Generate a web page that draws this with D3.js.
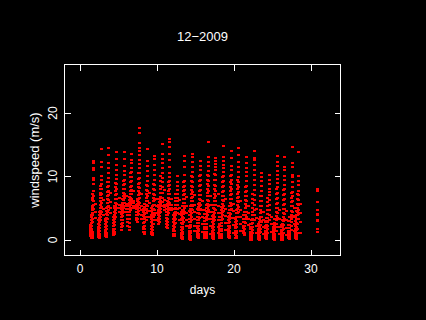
<!DOCTYPE html>
<html>
<head>
<meta charset="utf-8">
<script src="https://cdn.jsdelivr.net/npm/d3@7"></script>
<style>
  html, body { margin: 0; background: #000; }
  text { font-family: "Liberation Sans", sans-serif; font-size: 12px; fill: #fff; }
</style>
</head>
<body>
<svg width="426" height="320"></svg>
<script>
const title = '12\u22122009';
const xAxisLabel = 'days';
const yAxisLabel = 'windspeed (m/s)';
const xTicks = [0, 10, 20, 30];
const yTicks = [0, 10, 20];

//day of the top of each daily burst
const burstDays = [1.77, 2.79, 3.7, 4.8, 5.75, 6.65, 7.75, 8.72, 9.7, 10.65, 11.65, 12.6, 13.6, 14.65, 15.62, 16.65, 17.65, 18.6, 19.65, 20.55, 21.6, 22.6, 23.55, 24.55, 25.6, 26.6, 27.55, 28.4];
//time of each column, relative to the burst top
const columnOffsets = [-0.42, -0.28, -0.14, 0, 0.28];

const speedsA = [
  [0.5,0.8,1.1,1.4,1.7,2.0,2.3],
  [0.4,0.7,1,1.3,1.6,2,2.4,3],
  [0.5,0.9,1.2,1.5,1.9,2.4,2.9,3.3],
  [0.7,1,1.3,1.7,2.2,2.6,3.1,3.6],
  [1.5,1.9,2.4,3,3.5,4,4.4,4.8,5.2],
  [2.2,2.7,3.3,3.9,4.4,4.8,5.2,5.6],
  [3,3.4,3.9,4.3,4.8,5.1,5.5],
  [1.2,1.6,2,2.6,3.2,3.7,4.3,4.8],
  [0.9,1.2,1.6,2.1,2.7,3.3,3.9,4.5,5],
  [2.5,2.9,3.4,3.9,4.3,4.7,5.1,5.5],
  [2,2.4,2.9,3.4,3.9,4.4,4.8,5.2],
  [0.6,0.9,1.3,1.7,2.2,2.8,3.3,3.9],
  [0.2,0.5,0.8,1.1,1.5,2,2.6,3.2,3.8,4.4],
  [0.1,0.4,0.7,1,1.4,1.8,2.2,2.7,3.2,3.8,4.5],
  [0.4,0.7,1,1.4,1.8,2.2,2.6,3.1,3.6,4.2,4.8],
  [0.3,0.6,0.9,1.2,1.6,2,2.4,2.9,3.4,4,4.6],
  [0.2,0.5,0.8,1.1,1.4,1.8,2.2,2.7,3.2,3.7,4.3],
  [0.3,0.6,0.9,1.3,1.7,2.1,2.5,3,3.5,4.1],
  [0.4,0.7,1,1.3,1.7,2.1,2.6,3,3.6,4.2],
  [0.3,0.7,1,1.4,1.8,2.2,2.7,3.2],
  [1,1.4,1.8,2.2,2.7,3.3,3.8],
  [0,0.3,0.6,0.9,1.2,1.6,2,2.4],
  [0.1,0.4,0.7,1,1.3,1.7,2.1,2.5],
  [0.2,0.5,0.8,1.1,1.4,1.8,2.2,2.8],
  [0.1,0.4,0.7,1,1.3,1.6,2,2.5],
  [0,0.3,0.6,0.9,1.2,1.5,1.9,2.3],
  [0.2,0.5,0.8,1.1,1.4,1.8,2.3,2.9],
  [0.2,0.5,0.8,1.2,1.6,2.2,2.9,3.5]
];
const speedsB = [
  [0.2,0.4,0.7,1,1.3,1.7,2.1,2.6,3.1,3.5,3.9],
  [0.3,0.6,0.9,1.3,1.8,2.3,2.8,3.4,3.8,4.3],
  [0.4,0.7,1.1,1.6,2.2,2.8,3.4,4,4.5,4.9],
  [0.8,1.2,1.7,2.3,2.8,3.3,3.9,4.4,4.9,5.3],
  [2.1,2.6,3.1,3.7,4.2,4.6,5,5.4,5.8,6.3],
  [1.5,2,2.6,3.2,3.8,4.3,4.8,5.3,5.7,6.2,6.7],
  [2.8,3.3,3.8,4.3,4.8,5.2,5.6,6,6.4],
  [0.8,1.2,1.7,2.2,2.8,3.4,4,4.6,5.1,5.6],
  [0.7,1.1,1.5,2,2.5,3,3.6,4.2,4.8,5.3],
  [2.7,3.2,3.7,4.1,4.6,5,5.4,5.9,6.4],
  [1.8,2.3,2.8,3.3,3.8,4.3,4.8,5.2,5.6,6.1],
  [0.5,0.9,1.4,1.9,2.4,3,3.6,4.2,4.8],
  [0.1,0.4,0.8,1.2,1.6,2,2.5,3,3.5,4,4.6,5.2],
  [0,0.3,0.6,1,1.4,1.9,2.3,2.8,3.3,3.8,4.3,4.8,5.3],
  [0.3,0.6,0.9,1.3,1.7,2.2,2.6,3.1,3.6,4.1,4.6,5.1,5.6],
  [0.2,0.5,0.8,1.2,1.6,2,2.5,3,3.5,4,4.5,5,5.5],
  [0.1,0.4,0.7,1.1,1.5,1.9,2.4,2.9,3.4,3.9,4.4,4.9,5.4],
  [0.2,0.5,0.9,1.3,1.7,2.1,2.6,3.1,3.6,4.1,4.6,5.1],
  [0.3,0.6,1,1.4,1.8,2.2,2.7,3.2,3.7,4.2,4.7,5.2],
  [0.2,0.6,1,1.4,1.9,2.4,2.9,3.5,4.1,4.6],
  [0.7,1.1,1.6,2.1,2.7,3.2,3.8,4.3],
  [-0.1,0.2,0.5,0.8,1.2,1.6,2,2.5,3],
  [0,0.3,0.6,1,1.4,1.8,2.2,2.7,3.3],
  [0.1,0.4,0.7,1,1.4,1.8,2.3,2.9,3.4],
  [0,0.3,0.6,0.9,1.3,1.7,2.1,2.6,3.2],
  [-0.1,0.2,0.5,0.8,1.1,1.5,1.9,2.4,3],
  [0.1,0.4,0.7,1,1.4,1.8,2.3,2.9,3.5],
  [0.1,0.4,0.7,1.1,1.5,2,2.6,3.2,3.9,4.5]
];
const speedsC = [
  [0.3,0.6,0.9,1.2,2.8,3.3,3.8,4.2,4.6,5,5.2,6.2,6.6,7.2],
  [3,3.5,4,4.5,5,5.5,6,6.5,7,7.4,8,8.4],
  [3.2,3.8,4.4,5.1,5.7,6.3,6.9,7.5,8.2,9],
  [3.6,4.1,4.7,5.2,5.8,6.4,7,7.6,8.3,8.9],
  [4.4,4.9,5.3,5.7,6.2,6.8,7.4,8,8.6,9.2],
  [4.6,5,5.5,6,6.5,7.1,7.7,8.3,9,9.8,10.4],
  [4,4.5,5,5.4,5.9,6.4,7,7.6,8.2,8.8,9.6,10.5],
  [3,3.6,4.2,4.8,5.4,6,6.6,7.2,7.8,8.6],
  [2.4,3,3.6,4.2,4.8,5.4,6,6.6,7.2,7.9,8.7],
  [4.4,4.8,5.2,5.6,6.1,6.7,7.3,7.9,8.5,9.2,10],
  [4.2,4.6,5,5.4,5.9,6.5,7.1,7.7,8.4,9],
  [2.6,3.2,3.8,4.4,4.9,5.4,6,6.6,7.2],
  [2.8,3.4,4,4.6,5.2,5.8,6.4,7,7.6,8.3,9],
  [3,3.6,4.2,4.8,5.4,6,6.6,7.2,7.8,8.5,9.2,10],
  [3.4,4,4.6,5.2,5.8,6.4,7,7.7,8.4,9.2,10],
  [3.2,3.8,4.4,5,5.6,6.2,6.8,7.4,8,8.7,9.4,10.2],
  [3,3.6,4.2,4.8,5.4,6,6.6,7.2,7.9,8.6,9.4,10.3],
  [3.2,3.8,4.4,5,5.6,6.2,6.8,7.5,8.2,9,9.8],
  [3.4,4,4.6,5.2,5.8,6.4,7,7.6,8.3,9.1,10],
  [3.6,4.2,4.8,5.4,6,6.6,7.2,7.9,8.6,9.4],
  [2.6,3.2,3.8,4.4,5,5.6,6.2,6.8,7.5,8.3],
  [1,1.5,2,2.6,3.2,3.8,4.4,5,5.7,6.4,7.2],
  [1.2,1.7,2.3,2.9,3.5,4.1,4.7,5.3,6,6.8],
  [1,1.6,2.2,2.8,3.4,4,4.6,5.2,5.9,6.6],
  [1.3,1.9,2.5,3.1,3.7,4.3,4.9,5.6,6.3,7.1,8],
  [1.1,1.7,2.3,2.9,3.5,4.1,4.8,5.5,6.2,7,7.8],
  [1.5,2.1,2.7,3.3,3.9,4.5,5.2,5.9,6.6,7.4],
  [1,1.6,2.4,3.2,3.8,4.4,5,5.6,6.4,7.2]
];
const speedsD = [
  [4.8,5.4,6,6.8,7.6,8.8,9.3,9.7,10.9,11.2,12.1,12.4],
  [4.4,5.1,5.8,6.6,7.2,8,8.8,9.4,10,11.4,12.2,14.2],
  [4.6,5.3,6.2,7,7.7,8.4,9,9.7,10.5,11.2,12,13.3,14.4],
  [4.9,5.6,6.4,7.2,8,8.8,9.5,10.2,11,11.8,12.6,13.8],
  [5.2,5.8,6.5,7.2,8,8.7,9.4,10.1,10.8,11.5,12.6,13.8],
  [5.8,6.4,7.1,7.8,8.5,9.2,9.9,10.6,11.3,12,12.5,13.5],
  [5,5.7,6.5,7.3,8.1,8.9,9.7,10.5,11.3,11.9,12.5,13.3,13.9,14.4,15.2,16.7,17.5],
  [4.5,5.2,6,6.8,7.6,8.4,9.2,10,10.8,11.5,12.3,14.2],
  [3.8,4.6,5.4,6.2,7,7.8,8.6,9.4,10.2,11,11.8,12.6,13.2],
  [5.2,5.9,6.6,7.4,8.2,9,9.7,10.4,11.2,12,12.6,13.4,15],
  [5,5.7,6.4,7.2,8,8.6,9.2,9.9,10.4,11.4,12.5,13.4,14.6,15.3,15.8],
  [4.2,4.8,5.4,6,6.6,7.2,7.8,8.4,9.1,10],
  [4.4,5,5.7,6.4,7.1,7.8,8.5,9.2,10.2,11.4,12.4,13.2],
  [4.6,5.3,6,6.7,7.5,8.3,9.1,9.9,10.6,11.4,12.2,13,13.5],
  [4.8,5.5,6.2,7,7.8,8.6,9.4,10.2,11,11.6,12.4],
  [4.6,5.3,6,6.8,7.6,8.4,9.2,10,10.8,11.6,12.2,13,15.3],
  [4.7,5.4,6.1,6.9,7.7,8.5,9.3,10.1,10.9,11.4,11.9,12.4,12.9],
  [4.5,5.2,6,6.8,7.6,8.4,9.2,10,10.6,11.2,11.8,12.4,13,14.7],
  [4.8,5.5,6.3,7.1,7.9,8.7,9.4,10.1,10.9,11.6,12.8,13.9],
  [4.4,5.1,5.9,6.7,7.5,8.3,9.1,9.9,10.6,11.4,12.2,13.3,14.4],
  [3.6,4.4,5.2,6,6.8,7.6,8.4,9.2,10,10.6,11.2,12,13],
  [3,3.8,4.6,5.4,6.2,7,7.8,8.6,9.4,10.2,11,11.7,12.5,12.9,14],
  [2.8,3.6,4.4,5.2,6,6.8,7.6,8.4,9.2,9.8,10.5],
  [3,3.8,4.6,5.4,6.2,7,7.5,8,8.7,9.4,10.2],
  [3.4,4.2,5,5.8,6.6,7.4,8.2,8.9,9.6,10.2,10.8,11.6,12.2,13.1],
  [3.2,4,4.8,5.6,6.4,7.2,8,8.6,9.4,10,10.9,11.4,13],
  [3.6,4.4,5.2,6,6.8,7.5,8.3,9,9.8,10.2,11.4,12,14.5],
  [3.2,4,4.7,5.4,6.2,7,7.7,8.6,9.2,10,13.8]
];
//trailing readings just after each top
const speedsE = [
  [3.4,4.4,5.6],
  [3.9,4.8,6.2],
  [4.2,5,5.9,7.4],
  [4.4,5,5.4,6.6],
  [4.3,4.8,5.2,5.6,6.9],
  [4.9,5.3,5.7,6.1,7.6],
  [3.3,3.9,4.6,5.2,7.1],
  [3.6,4.5,5.7,7.4],
  [3.1,4.2,5.2,6.4],
  [4.7,5.1,5.5,6.2,7.8],
  [4.6,5,5.4,6.3],
  [3,4,5,6.2],
  [2.1,3.1,4.1,5.2,6.7],
  [1.3,2.2,3.3,4.4,5.5,7],
  [1.2,2.4,3.5,4.7,6.1],
  [0.9,2.1,3.2,4.3,5.4,6.8],
  [1,2,3.1,4.2,5.3,7.2],
  [1.5,2.6,3.7,4.8,6.3],
  [1.1,2.3,3.4,4.5,5.6],
  [1.4,2.5,3.6,4.7,6],
  [2.3,3.3,4.2,5.3],
  [1,2.1,3.4,4.8],
  [0.8,1.9,3,4.4],
  [1.2,2.4,3.6],
  [0.9,2,3.3,4.6],
  [0.7,1.8,3.1,4.5],
  [1.3,2.5,3.7,5],
  [1.1,2.7,4.2,5.6]
];

//late readings, after the gap in the record
const lateDays = [30.85, 30.85, 30.85, 30.85, 30.85, 30.85, 30.85, 30.85, 30.85, 30.85];
const lateSpeeds = [7.9, 7.7, 5.9, 4.7, 4, 3.8, 3.1, 2.9, 1.6, 1.2];

const svg = d3.select('svg');
const width = +svg.attr('width');
const height = +svg.attr('height');

const render = () => {
    //black page and plot box edges
    const box = { left: 64.5, right: 340.5, top: 64.5, bottom: 255.5 };
    const tickLength = 6;
    const pointWidth = 3;
    const pointHeight = 2;

    svg.append('rect')
        .attr('width', width)
        .attr('height', height)
        .attr('fill', '#000');

    const xScale = d3.scaleLinear().domain([0, 30]).range([79.5, 310.5]);
    const yScale = d3.scaleLinear().domain([0, 20]).range([239.5, 112.5]);

    //flatten the columns into points
    const points = [];
    burstDays.forEach((day, i) => {
        [speedsA, speedsB, speedsC, speedsD, speedsE].forEach((speeds, c) => {
            speeds[i].forEach(speed => {
                points.push({ day: day + columnOffsets[c], speed });
            });
        });
    });
    lateDays.forEach((day, i) => points.push({ day, speed: lateSpeeds[i] }));

    svg.append('g').selectAll('rect').data(points)
        .enter().append('rect')
            .attr('x', d => Math.round(xScale(d.day)) - 1)
            .attr('y', d => Math.round(yScale(d.speed)) - 1)
            .attr('width', pointWidth)
            .attr('height', pointHeight)
            .attr('fill', '#f00');

    //axes on all four sides, ticks pointing in
    const styleAxis = g => {
        g.select('.domain').remove();
        g.selectAll('line').attr('stroke', '#fff').attr('shape-rendering', 'crispEdges');
        g.selectAll('text').attr('fill', '#fff');
    };

    svg.append('g')
        .attr('transform', `translate(0, ${box.bottom})`)
        .call(d3.axisBottom(xScale).tickValues(xTicks).tickSizeInner(-tickLength).tickPadding(9))
        .call(styleAxis);
    svg.append('g')
        .attr('transform', `translate(0, ${box.top})`)
        .call(d3.axisTop(xScale).tickValues(xTicks).tickSizeInner(-tickLength).tickFormat(''))
        .call(styleAxis);
    const yAxisG = svg.append('g')
        .attr('transform', `translate(${box.left}, 0)`)
        .call(d3.axisLeft(yScale).tickValues(yTicks).tickSizeInner(-tickLength))
        .call(styleAxis);
    svg.append('g')
        .attr('transform', `translate(${box.right}, 0)`)
        .call(d3.axisRight(yScale).tickValues(yTicks).tickSizeInner(-tickLength).tickFormat(''))
        .call(styleAxis);

    //y tick labels are rotated
    yAxisG.selectAll('text')
        .attr('x', null)
        .attr('dy', null)
        .attr('text-anchor', 'middle')
        .attr('transform', 'translate(-8, 0) rotate(-90)');

    svg.append('rect')
        .attr('x', box.left)
        .attr('y', box.top)
        .attr('width', box.right - box.left)
        .attr('height', box.bottom - box.top)
        .attr('fill', 'none')
        .attr('stroke', '#fff')
        .attr('shape-rendering', 'crispEdges');

    //chart title and axis labels
    svg.append('text')
        .attr('x', 202.5)
        .attr('y', 41)
        .attr('text-anchor', 'middle')
        .style('font-size', '13px')
        .text(title);
    svg.append('text')
        .attr('x', 202.5)
        .attr('y', 294)
        .attr('text-anchor', 'middle')
        .text(xAxisLabel);
    svg.append('text')
        .attr('transform', 'translate(39, 160) rotate(-90)')
        .attr('text-anchor', 'middle')
        .style('font-size', '13px')
        .text(yAxisLabel);
};

render();
</script>
</body>
</html>
